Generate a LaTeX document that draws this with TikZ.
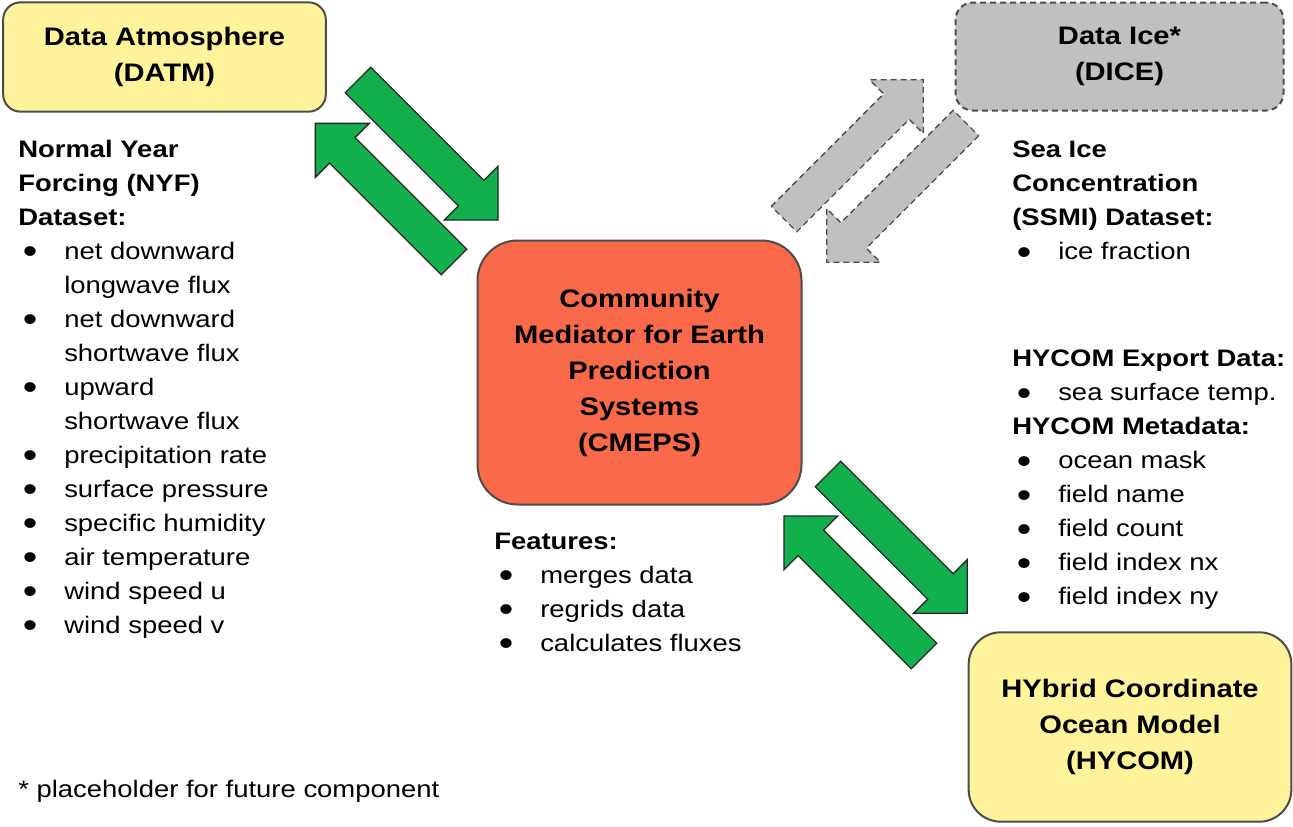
\documentclass[tikz,border=0pt]{standalone}
\usepackage{fontspec}
\setmainfont{Liberation Sans}[FakeStretch=1.15]
\usetikzlibrary{positioning}

\definecolor{atmyellow}{HTML}{FFF49C}
\definecolor{icegray}{HTML}{C0C0C0}
\definecolor{medred}{HTML}{FA6A4A}
\definecolor{arrowgreen}{HTML}{12B04C}

\newcommand{\itm}{\makebox[34.5pt][l]{\hspace{3.5pt}\raisebox{-3.2pt}{\fontsize{27}{0}\selectfont\textbullet}}}
\newcommand{\ind}{\hspace*{34.5pt}}
% block arrow: style, start coordinate, angle, length (px)
\newcommand{\bigarrow}[4][]{%
  \draw[#1, shift={(#2)}, rotate=#3] (0,-18) -- (#4-38,-18) -- (#4-38,-38) -- (#4,0)
    -- (#4-38,38) -- (#4-38,18) -- (0,18) -- cycle;}

\tikzset{
  box/.style={draw=black!70, line width=1.5pt, align=center, inner sep=0pt,
    font=\fontsize{19}{27}\selectfont\bfseries},
  txt/.style={anchor=north west, align=left, inner sep=0pt,
    font=\fontsize{17.9}{25.5}\selectfont},
  greenarrow/.style={fill=arrowgreen, draw=black!85, line width=1pt, line join=miter},
  grayarrow/.style={fill=icegray, draw=black!70, line width=1pt, dash pattern=on 4.5pt off 3pt},
}

\begin{document}
\begin{tikzpicture}[x=0.75pt,y=-0.75pt]
  \useasboundingbox (0,0) rectangle (1293,826);

  \node[box, fill=atmyellow, rounded corners=13pt, minimum width=242pt, minimum height=82pt]
    (datm) at (164.5,57) {Data Atmosphere\\(DATM)};
  \node[box, fill=icegray, rounded corners=13pt, minimum width=246pt, minimum height=81pt,
    dash pattern=on 4.5pt off 3pt] (dice) at (1119.5,56.5) {Data Ice*\\(DICE)};
  \node[box, fill=medred, rounded corners=30pt, minimum width=243pt, minimum height=198pt]
    (cmeps) at (639.5,372.5) {Community\\Mediator for Earth\\Prediction\\Systems\\(CMEPS)};
  \node[box, fill=atmyellow, rounded corners=24pt, minimum width=242pt, minimum height=142pt]
    (hycom) at (1130,727) {HYbrid Coordinate\\Ocean Model\\(HYCOM)};

  \coordinate (atm2med) at (358,80);
  \coordinate (med2atm) at (454,262);
  \coordinate (med2ocn) at (828,474);
  \coordinate (ocn2med) at (924,656);
  \coordinate (med2ice) at (784,219);
  \coordinate (ice2med) at (966,123);

  \bigarrow[greenarrow]{atm2med}{-45}{198}
  \bigarrow[greenarrow]{med2atm}{135}{196}
  \bigarrow[greenarrow]{med2ocn}{-45}{197}
  \bigarrow[greenarrow]{ocn2med}{135}{198}
  \bigarrow[grayarrow]{med2ice}{45}{197}
  \bigarrow[grayarrow]{ice2med}{-135}{197}

  \node[txt] (nyf) at (18,140) {\textbf{Normal Year}\\\textbf{Forcing (NYF)}\\\textbf{Dataset:}\\
    \itm net downward\\\ind longwave flux\\
    \itm net downward\\\ind shortwave flux\\
    \itm upward\\\ind shortwave flux\\
    \itm precipitation rate\\
    \itm surface pressure\\
    \itm specific humidity\\
    \itm air temperature\\
    \itm wind speed u\\
    \itm wind speed v};
  \node[txt] (ssmi) at (1012,141) {\textbf{Sea Ice}\\\textbf{Concentration}\\\textbf{(SSMI) Dataset:}\\
    \itm ice fraction};
  \node[txt] (export) at (1012,350) {\textbf{HYCOM Export Data:}\\
    \itm sea surface temp.\\
    \textbf{HYCOM Metadata:}\\
    \itm ocean mask\\
    \itm field name\\
    \itm field count\\
    \itm field index nx\\
    \itm field index ny};
  \node[txt] (features) at (494,533) {\textbf{Features:}\\
    \itm merges data\\
    \itm regrids data\\
    \itm calculates fluxes};
  \node[txt] (note) at (18,780) {* placeholder for future component};
\end{tikzpicture}
\end{document}
